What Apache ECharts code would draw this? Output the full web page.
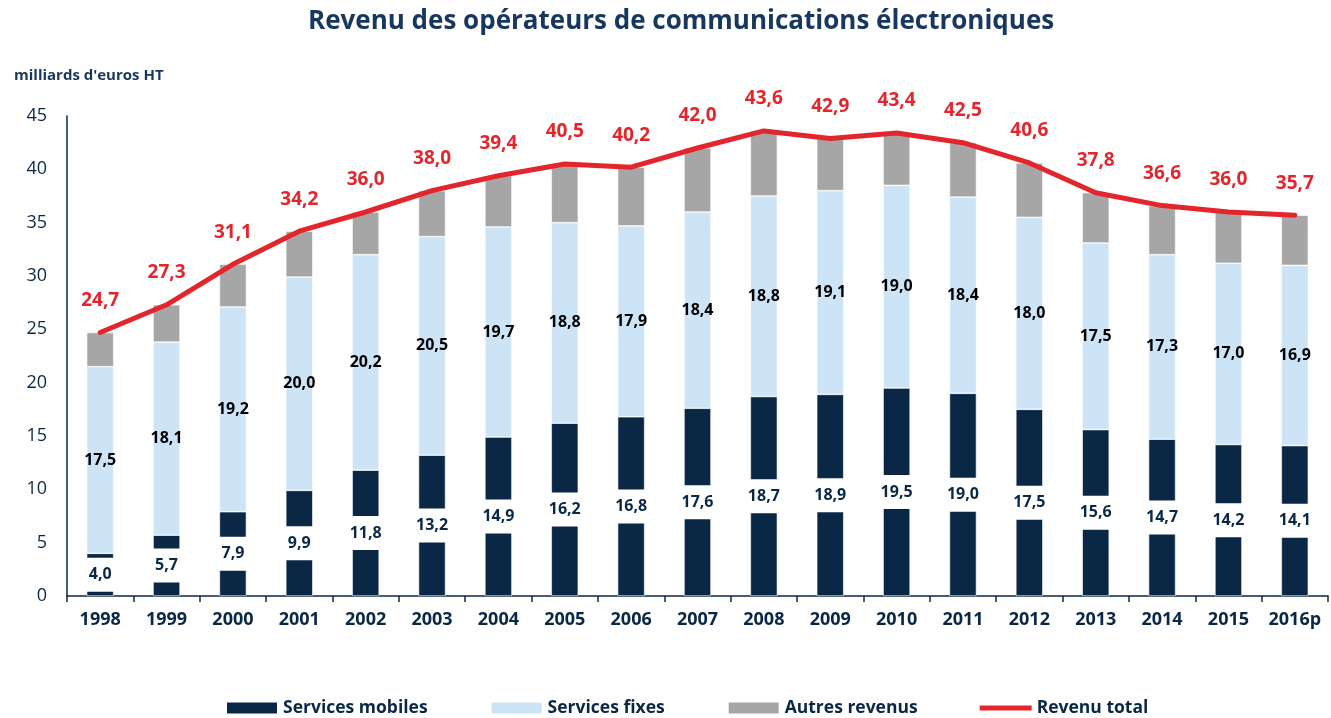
<!DOCTYPE html>
<html>
<head>
<meta charset="utf-8">
<script src="https://cdn.jsdelivr.net/npm/echarts@6/dist/echarts.min.js"></script>
<style>
html, body { margin: 0; padding: 0; background: #fff; }
#chart { width: 1331px; height: 718px; }
</style>
</head>
<body>
<div id="chart"></div>
<script>
var years = ['1998', '1999', '2000', '2001', '2002', '2003', '2004', '2005', '2006', '2007',
    '2008', '2009', '2010', '2011', '2012', '2013', '2014', '2015', '2016p'];
var mobiles = [4.0, 5.7, 7.9, 9.9, 11.8, 13.2, 14.9, 16.2, 16.8, 17.6, 18.7, 18.9, 19.5, 19.0, 17.5, 15.6, 14.7, 14.2, 14.1];
var fixes = [17.5, 18.1, 19.2, 20.0, 20.2, 20.5, 19.7, 18.8, 17.9, 18.4, 18.8, 19.1, 19.0, 18.4, 18.0, 17.5, 17.3, 17.0, 16.9];
var autres = [3.2, 3.5, 4.0, 4.3, 4.0, 4.3, 4.8, 5.5, 5.5, 6.0, 6.1, 4.9, 4.9, 5.1, 5.1, 4.7, 4.6, 4.8, 4.7];
var total = [24.7, 27.3, 31.1, 34.2, 36.0, 38.0, 39.4, 40.5, 40.2, 42.0, 43.6, 42.9, 43.4, 42.5, 40.6, 37.8, 36.6, 36.0, 35.7];

var navy = '#0a2846';
var red = '#e3262b';
var font = 'Open Sans';

function virgule(p) {
    return p.value.toFixed(1).replace('.', ',');
}

var chart = echarts.init(document.getElementById('chart'));

var option = {
    backgroundColor: '#fff',
    animation: false,
    textStyle: { fontFamily: font },
    title: [{
        text: 'Revenu des opérateurs de communications électroniques',
        left: 303,
        top: 4,
        textStyle: { color: '#17375e', fontSize: 26, fontWeight: 'bold', fontFamily: font }
    }, {
        text: "milliards d'euros HT",
        left: 9,
        top: 63,
        textStyle: { color: '#17375e', fontSize: 15, fontWeight: 'bold', fontFamily: font }
    }],
    legend: {
        bottom: -4,
        left: 220,
        itemGap: 62,
        itemWidth: 52,
        itemHeight: 13,
        textStyle: { color: navy, fontSize: 17.5, fontWeight: 'bold', fontFamily: font },
        data: [
            { name: 'Services mobiles', icon: 'rect' },
            { name: 'Services fixes', icon: 'rect' },
            { name: 'Autres revenus', icon: 'rect' },
            { name: 'Revenu total', icon: 'path://M0,0L52,0L52,5L0,5Z', itemStyle: { color: red } }
        ]
    },
    grid: {
        left: 67,
        right: 3,
        top: 116,
        bottom: 122
    },
    xAxis: {
        type: 'category',
        data: years,
        axisLine: { lineStyle: { color: navy, width: 1.5 } },
        axisTick: { show: true, length: 6, lineStyle: { color: navy, width: 1.5 } },
        axisLabel: { color: navy, fontSize: 18, fontWeight: 'bold', margin: 15, interval: 0 }
    },
    yAxis: {
        type: 'value',
        min: 0,
        max: 45,
        interval: 5,
        axisLine: { show: true, lineStyle: { color: navy, width: 1.5 } },
        axisTick: { show: false },
        splitLine: { show: false },
        axisLabel: { color: navy, fontSize: 18, margin: 20 }
    },
    series: [{
        name: 'Services mobiles',
        type: 'bar',
        stack: 'rev',
        barWidth: 27,
        data: mobiles,
        itemStyle: { color: navy, borderColor: '#fff', borderWidth: 0.6 },
        label: {
            show: true,
            position: 'inside',
            formatter: virgule,
            color: navy,
            fontSize: 16,
            fontWeight: 'bold',
            backgroundColor: '#fff',
            padding: [9, 8, 9, 8]
        }
    }, {
        name: 'Services fixes',
        type: 'bar',
        stack: 'rev',
        data: fixes,
        itemStyle: { color: '#cde3f6', borderColor: '#fff', borderWidth: 0.6 },
        label: {
            show: true,
            position: 'inside',
            formatter: virgule,
            color: '#000',
            fontSize: 16,
            fontWeight: 'bold'
        }
    }, {
        name: 'Autres revenus',
        type: 'bar',
        stack: 'rev',
        data: autres,
        itemStyle: { color: '#a6a6a6', borderColor: '#fff', borderWidth: 0.6 }
    }, {
        name: 'Revenu total',
        type: 'line',
        data: total,
        symbol: 'circle',
        symbolSize: 1,
        showSymbol: true,
        lineStyle: { color: red, width: 5, cap: 'round', join: 'round' },
        itemStyle: { color: red },
        label: {
            show: true,
            position: 'top',
            distance: 22,
            formatter: virgule,
            color: red,
            fontSize: 19,
            fontWeight: 'bold'
        },
        z: 5
    }]
};

chart.setOption(option);
</script>
</body>
</html>
